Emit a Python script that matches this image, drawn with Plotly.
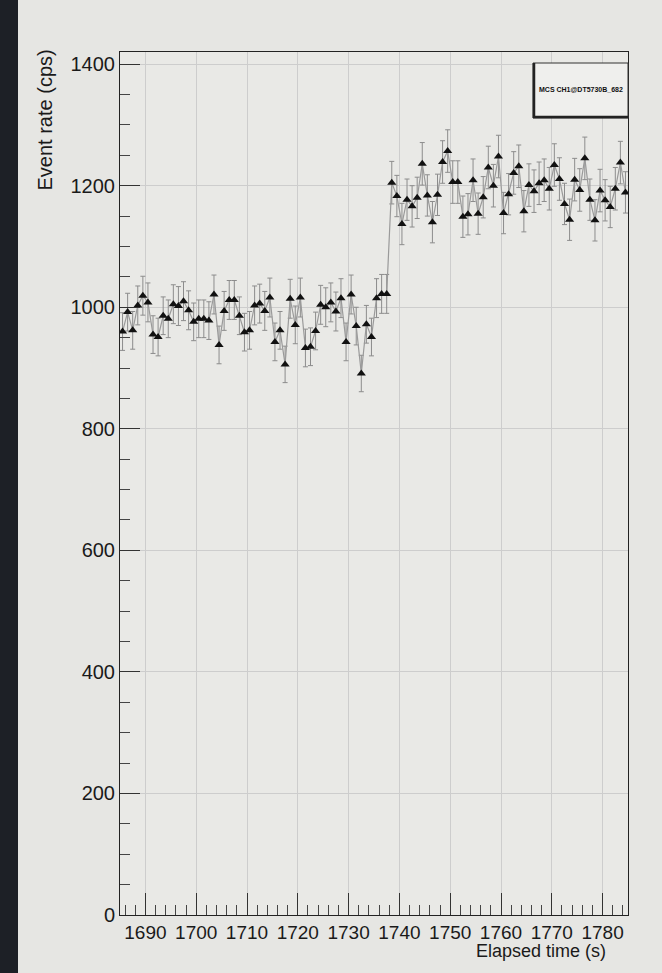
import numpy as np
import plotly.graph_objects as go

# ---- data ----
t_first = 1685.5   # centre of first 1 s bin
bin_width = 1.0
rate = [960, 992, 962, 1003, 1019, 1008, 955, 951, 986, 981,
        1005, 1002, 1010, 995, 976, 981, 981, 978, 1021, 938,
        994, 1012, 1012, 986, 959, 962, 1003, 1006, 994, 1016,
        943, 962, 906, 1014, 971, 1016, 933, 935, 961, 1004,
        1000, 1008, 993, 1015, 943, 1021, 969, 891, 972, 951,
        1015, 1022, 1022, 1205, 1183, 1137, 1177, 1166, 1180, 1236,
        1184, 1140, 1185, 1239, 1257, 1206, 1206, 1149, 1153, 1209,
        1154, 1181, 1230, 1200, 1248, 1155, 1186, 1221, 1232, 1158,
        1201, 1191, 1204, 1209, 1195, 1234, 1211, 1170, 1144, 1210,
        1193, 1245, 1177, 1143, 1192, 1176, 1165, 1195, 1238, 1189]
rate_err = [31, 31, 31, 32, 32, 32, 31, 31, 31, 31,
            32, 32, 32, 32, 31, 31, 31, 31, 32, 31,
            32, 32, 32, 31, 31, 31, 32, 32, 32, 32,
            31, 31, 30, 32, 31, 32, 31, 31, 31, 32,
            32, 32, 32, 32, 31, 32, 31, 30, 31, 31,
            32, 32, 32, 35, 34, 34, 34, 34, 34, 35,
            34, 34, 34, 35, 35, 35, 35, 34, 34, 35,
            34, 34, 35, 35, 35, 34, 34, 35, 35, 34,
            35, 35, 35, 35, 35, 35, 35, 34, 34, 35,
            35, 35, 34, 34, 35, 34, 34, 35, 35, 34]
time = t_first + bin_width * np.arange(len(rate))

x_range = [1685, 1785]
y_range = [0, 1420]
legend_text = "MCS CH1@DT5730B_682"
x_title = "Elapsed time (s)"
y_title = "Event rate (cps)"

W, H = 662, 973
ML, MR, MT, MB = 120, 34, 52, 58
PW, PH = W - ML - MR, H - MT - MB

def px(xp):
    return (xp - ML) / PW

def py(yp):
    return (H - MB - yp) / PH

FONT = "Liberation Sans, Arial, Helvetica, sans-serif"

fig = go.Figure()
fig.add_trace(go.Scatter(
    x=time, y=rate, mode="lines+markers",
    line=dict(color="#9a9a9a", width=1.2),
    marker=dict(symbol="triangle-up", size=8, color="#111111"),
    error_y=dict(type="data", array=rate_err, color="#8c8c8c",
                 thickness=1, width=2.5),
    showlegend=False,
))

axis_common = dict(
    showline=True, linecolor="#222222", linewidth=1, mirror=True,
    ticks="inside", tickcolor="#333333", tickwidth=1,
    showgrid=True, gridcolor="#cdcdcd", gridwidth=1,
    zeroline=False,
)

fig.update_xaxes(range=x_range, tick0=1690, dtick=10, ticklen=22,
                 tickfont=dict(family=FONT, size=19, color="#1a1a1a"),
                 minor=dict(dtick=2, tick0=1690, ticklen=10, ticks="inside",
                            tickcolor="#444444", showgrid=False),
                 **axis_common)
fig.update_yaxes(range=y_range, tick0=0, dtick=200, ticklen=20,
                 tickfont=dict(family=FONT, size=20, color="#1a1a1a"),
                 minor=dict(dtick=50, tick0=0, ticklen=10, ticks="inside",
                            tickcolor="#444444", showgrid=False),
                 **axis_common)

shapes = [
    # dark monitor bezel at the left edge of the photo
    dict(type="rect", xref="paper", yref="paper",
         x0=px(0), x1=px(18), y0=py(H), y1=py(0),
         fillcolor="#1d2026", line=dict(width=0), layer="above"),
    # stat/title box
    dict(type="rect", xref="paper", yref="paper",
         x0=px(533), x1=px(628), y0=py(118), y1=py(63),
         fillcolor="#efefed", line=dict(color="#333333", width=1), layer="above"),
    dict(type="line", xref="paper", yref="paper",
         x0=px(534), x1=px(534), y0=py(118), y1=py(63),
         line=dict(color="#222222", width=2.5), layer="above"),
    dict(type="line", xref="paper", yref="paper",
         x0=px(533), x1=px(628), y0=py(117), y1=py(117),
         line=dict(color="#222222", width=2.5), layer="above"),
]

annotations = [
    dict(text="<b>" + legend_text + "</b>", xref="paper", yref="paper",
         x=px(581), y=py(89), showarrow=False, xanchor="center", yanchor="middle",
         font=dict(family=FONT, size=7, color="#111111")),
    dict(text=x_title, xref="paper", yref="paper",
         x=px(608), y=py(951), showarrow=False, xanchor="right", yanchor="middle",
         font=dict(family=FONT, size=18, color="#1a1a1a")),
    dict(text=y_title, xref="paper", yref="paper", textangle=-90,
         x=px(45), y=py(48), showarrow=False, xanchor="center", yanchor="top",
         font=dict(family=FONT, size=20, color="#1a1a1a")),
]

fig.update_layout(
    width=W, height=H,
    margin=dict(l=ML, r=MR, t=MT, b=MB),
    paper_bgcolor="#e6e6e3",
    plot_bgcolor="#e9e9e6",
    shapes=shapes,
    annotations=annotations,
    font=dict(family=FONT),
)

fig.write_html("out.html")
